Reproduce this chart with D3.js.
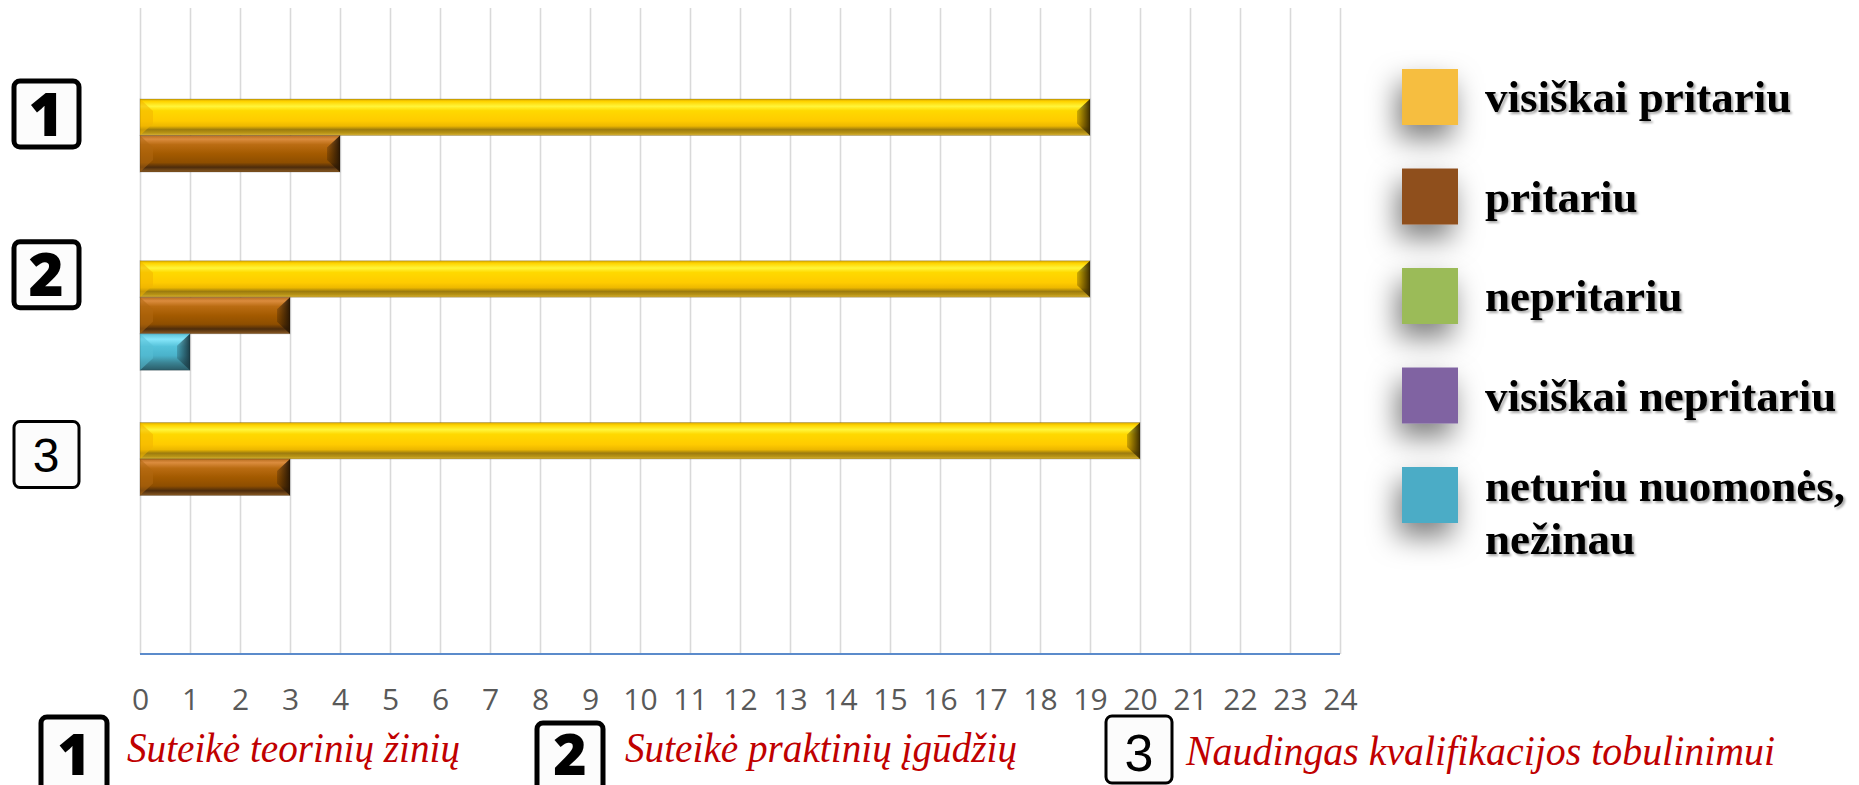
<!DOCTYPE html>
<html>
<head>
<meta charset="utf-8">
<script src="https://cdn.jsdelivr.net/npm/d3@7"></script>
<style>
  html, body { margin: 0; padding: 0; background: #ffffff; }
  svg { display: block; }
</style>
</head>
<body>
<svg id="chart" width="1859" height="785"></svg>
<script>
// ---------- DATA ----------
const categoryNums = ["1", "2", "3"];
const categoryNames = ["Suteikė teorinių žinių", "Suteikė praktinių įgūdžių", "Naudingas kvalifikacijos tobulinimui"];
const seriesNames = ["visiškai pritariu", "pritariu", "nepritariu", "visiškai nepritariu", "neturiu nuomonės, nežinau"];
const seriesColors = ["#F6BE41", "#8F501F", "#9BBB59", "#8064A2", "#4BACC6"];
const valuesVisiskaiPritariu = [19, 19, 20];
const valuesPritariu = [4, 3, 3];
const valuesNepritariu = [0, 0, 0];
const valuesVisiskaiNepritariu = [0, 0, 0];
const valuesNeturiuNuomones = [0, 1, 0];
const xTicks = [0,1,2,3,4,5,6,7,8,9,10,11,12,13,14,15,16,17,18,19,20,21,22,23,24];
// bar slot order inside each category (top to bottom)
const barOrder = ["visiškai pritariu", "pritariu", "neturiu nuomonės, nežinau", "nepritariu", "visiškai nepritariu"];

const seriesValues = [valuesVisiskaiPritariu, valuesPritariu, valuesNepritariu, valuesVisiskaiNepritariu, valuesNeturiuNuomones];

// ---------- LAYOUT ----------
const svg = d3.select("#chart");
const plotLeft = 140, plotRight = 1340, plotTop = 8, plotBottom = 654;
const catPitch = 161.75;
const barGroupOffset = 91;
const barH = 36.5;

const x = d3.scaleLinear().domain([0, 24]).range([plotLeft, plotRight]);
const yCat = d3.scaleBand().domain(categoryNums).range([plotTop, plotTop + catPitch * categoryNums.length]);
const ySer = d3.scaleBand().domain(barOrder).range([0, barH * barOrder.length]);

const defs = svg.append("defs");

// gradients for bevelled bars
const gradSpecs = {
  "visiškai pritariu": {
    v: [[0,"#D9A800"],[0.07,"#FFD400"],[0.2,"#FFF53A"],[0.32,"#FFD900"],[0.6,"#FFCB00"],[0.74,"#EDB800"],[0.84,"#9C7B0E"],[0.93,"#B89415"],[1,"#D8B23A"]],
    left: "#F2B500", right: "#3E2E00"
  },
  "pritariu": {
    v: [[0,"#B86E20"],[0.1,"#DB8C3E"],[0.25,"#BA6C12"],[0.5,"#A35A00"],[0.74,"#8E4E00"],[0.87,"#4D2C0C"],[1,"#8A5A22"]],
    left: "#B06810", right: "#2B1804"
  },
  "neturiu nuomonės, nežinau": {
    v: [[0,"#5CC0D6"],[0.15,"#86E6FA"],[0.35,"#55C2DA"],[0.6,"#4AB2CA"],[0.8,"#3A8292"],[1,"#2A5C68"]],
    left: "#58BFD6", right: "#1C3E48"
  },
  "nepritariu": { v: [[0,"#9BBB59"],[1,"#6E8A3A"]], left: "#9BBB59", right: "#4E6228" },
  "visiškai nepritariu": { v: [[0,"#8064A2"],[1,"#5A4575"]], left: "#8064A2", right: "#3E2E55" }
};
barOrder.forEach((s, i) => {
  const spec = gradSpecs[s];
  const g = defs.append("linearGradient").attr("id", "gv" + i).attr("x1", 0).attr("y1", 0).attr("x2", 0).attr("y2", 1);
  spec.v.forEach(([o, c]) => g.append("stop").attr("offset", o).attr("stop-color", c));
  const gr = defs.append("linearGradient").attr("id", "gr" + i).attr("x1", 1).attr("y1", 0).attr("x2", 0).attr("y2", 0);
  gr.append("stop").attr("offset", 0).attr("stop-color", spec.right);
  gr.append("stop").attr("offset", 1).attr("stop-color", spec.right).attr("stop-opacity", 0.25);
});

// shadow filters
const sh = defs.append("filter").attr("id", "swShadow").attr("x", "-100%").attr("y", "-100%").attr("width", "300%").attr("height", "300%");
sh.append("feDropShadow").attr("dx", -5).attr("dy", 14).attr("stdDeviation", 14).attr("flood-color", "#000").attr("flood-opacity", 0.5);
const tsh = defs.append("filter").attr("id", "txtShadow").attr("x", "-10%").attr("y", "-30%").attr("width", "120%").attr("height", "160%");
tsh.append("feDropShadow").attr("dx", 2).attr("dy", 2).attr("stdDeviation", 1.2).attr("flood-color", "#000").attr("flood-opacity", 0.35);

// ---------- GRID + AXIS ----------
const axisG = svg.append("g")
  .attr("transform", `translate(0,${plotBottom})`)
  .call(d3.axisBottom(x).tickValues(xTicks).tickSize(-(plotBottom - plotTop)).tickPadding(35).tickFormat(d3.format("d")));
axisG.select(".domain").remove();
axisG.selectAll(".tick line").attr("stroke", "#D9D9D9").attr("stroke-width", 1.6);
axisG.selectAll(".tick text")
  .attr("fill", "#595959")
  .style("font-family", "'Open Sans', 'Noto Sans', sans-serif")
  .style("font-size", "30px");

svg.append("line")
  .attr("x1", x(0)).attr("x2", x(24))
  .attr("y1", plotBottom).attr("y2", plotBottom)
  .attr("stroke", "#5B8BCB").attr("stroke-width", 2);

// ---------- BARS ----------
const barData = [];
categoryNums.forEach((c, ci) => {
  seriesNames.forEach((s, si) => {
    const v = seriesValues[si][ci];
    if (v > 0) barData.push({ cat: c, series: s, value: v, slot: barOrder.indexOf(s) });
  });
});

const bars = svg.append("g").selectAll("g.bar").data(barData).join("g").attr("class", "bar");
bars.each(function(d) {
  const g = d3.select(this);
  const x0 = x(0), x1 = x(d.value);
  const y0 = yCat(d.cat) + barGroupOffset + ySer(d.series);
  const h = ySer.bandwidth();
  const w = x1 - x0;
  const b = Math.min(13, w / 2 - 1);
  const bv = Math.min(12, h / 3);
  g.append("rect").attr("x", x0).attr("y", y0).attr("width", w).attr("height", h)
    .attr("fill", `url(#gv${d.slot})`);
  // left bevel (lighter)
  g.append("path")
    .attr("d", `M${x0},${y0} L${x0 + b},${y0 + bv} L${x0 + b},${y0 + h - bv} L${x0},${y0 + h} Z`)
    .attr("fill", gradSpecs[d.series].left).attr("opacity", 0.55);
  // right bevel (darker)
  g.append("path")
    .attr("d", `M${x1},${y0} L${x1 - b},${y0 + bv} L${x1 - b},${y0 + h - bv} L${x1},${y0 + h} Z`)
    .attr("fill", `url(#gr${d.slot})`);
  g.append("rect").attr("x", x0).attr("y", y0).attr("width", w).attr("height", h)
    .attr("fill", "none").attr("stroke", "#000").attr("stroke-opacity", 0.18).attr("stroke-width", 1);
});

// ---------- LEFT CATEGORY BOXES ----------
const boxOffsets = [106, 105, 123];
const boxStyles = [
  { sw: 5, weight: 800, size: 60, family: "'Open Sans', 'Liberation Sans', sans-serif" },
  { sw: 5, weight: 800, size: 60, family: "'Open Sans', 'Liberation Sans', sans-serif" },
  { sw: 3, weight: 400, size: 48, family: "'Liberation Sans', Arial, sans-serif" }
];
const leftBoxes = svg.append("g").selectAll("g").data(categoryNums).join("g")
  .attr("transform", (d, i) => `translate(46,${yCat(d) + boxOffsets[i]})`);
leftBoxes.append("rect")
  .attr("x", -32).attr("y", -33).attr("width", 65).attr("height", 66)
  .attr("rx", 6).attr("fill", "#fcfcfc").attr("stroke", "#000")
  .attr("stroke-width", (d, i) => boxStyles[i].sw);
leftBoxes.append("text")
  .attr("text-anchor", "middle").attr("dy", "0.36em")
  .style("font-family", (d, i) => boxStyles[i].family)
  .style("font-weight", (d, i) => boxStyles[i].weight)
  .style("font-size", (d, i) => boxStyles[i].size + "px")
  .attr("fill", "#000")
  .text(d => d);

// ---------- LEGEND ----------
const legendX = 1402, legendTop = 69, legendStep = 99.5, sw = 56;
const legend = svg.append("g").selectAll("g").data(seriesNames).join("g")
  .attr("transform", (d, i) => `translate(${legendX},${legendTop + i * legendStep})`);
legend.append("rect")
  .attr("width", sw).attr("height", sw)
  .attr("fill", (d, i) => seriesColors[i])
  .attr("filter", "url(#swShadow)");
legend.each(function(d) {
  const g = d3.select(this);
  const t = g.append("text")
    .attr("x", 83)
    .attr("fill", "#000")
    .attr("filter", "url(#txtShadow)")
    .style("font-family", "'Liberation Serif', 'Times New Roman', serif")
    .style("font-weight", "bold")
    .style("font-size", "45px");
  if (d.indexOf(", ") > 0) {
    const parts = d.split(", ");
    t.append("tspan").attr("x", 83).attr("y", 34).text(parts[0] + ",");
    t.append("tspan").attr("x", 83).attr("y", 87).text(parts[1]);
  } else {
    t.attr("y", 43).text(d);
  }
});

// ---------- BOTTOM CATEGORY KEY ----------
const keyBoxX = [41, 537, 1106];
const keyBoxY = [717, 723, 716];
const keyTextX = [127, 625, 1186];
const keyTextW = [333, 392, 589];
const key = svg.append("g").selectAll("g").data(categoryNums).join("g");
key.append("rect")
  .attr("x", (d, i) => keyBoxX[i]).attr("y", (d, i) => keyBoxY[i])
  .attr("width", 66).attr("height", (d, i) => i === 2 ? 67 : 80)
  .attr("rx", 6).attr("fill", "#fcfcfc").attr("stroke", "#000")
  .attr("stroke-width", (d, i) => boxStyles[i].sw);
key.append("text")
  .attr("x", (d, i) => keyBoxX[i] + 33)
  .attr("y", (d, i) => i === 2 ? 771 : 775)
  .attr("text-anchor", "middle")
  .style("font-family", (d, i) => boxStyles[i].family)
  .style("font-weight", (d, i) => boxStyles[i].weight)
  .style("font-size", (d, i) => (i === 2 ? 52 : 57) + "px")
  .attr("fill", "#000")
  .text(d => d);
key.append("text")
  .attr("x", (d, i) => keyTextX[i])
  .attr("y", (d, i) => i === 2 ? 765 : 762)
  .attr("textLength", (d, i) => keyTextW[i])
  .attr("lengthAdjust", "spacingAndGlyphs")
  .attr("fill", "#C00000")
  .style("font-family", "'Liberation Serif', 'Times New Roman', serif")
  .style("font-style", "italic")
  .style("font-size", "43px")
  .text((d, i) => categoryNames[i]);
</script>
</body>
</html>
